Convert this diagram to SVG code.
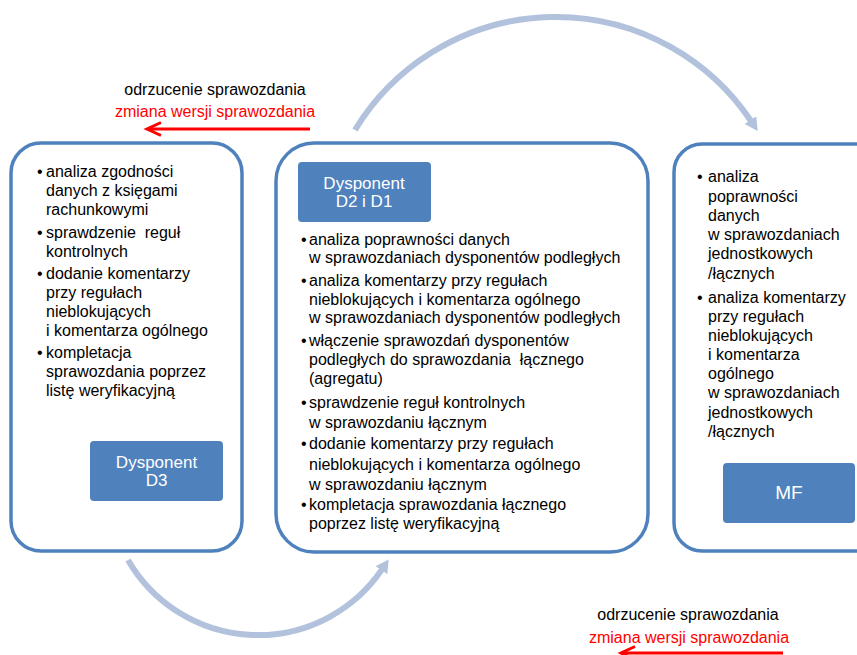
<svg xmlns="http://www.w3.org/2000/svg" width="857" height="655" viewBox="0 0 857 655">
<defs>
<style>
.box{fill:#ffffff;stroke:#4f81bd;stroke-width:3.5}
.lbl{fill:#4f81bd}
.t{font-family:"Liberation Sans",Arial,sans-serif;font-size:16px;fill:#000}
.w{font-family:"Liberation Sans",Arial,sans-serif;font-size:17px;fill:#fff;text-anchor:middle}
.red{fill:#ff0000}
.arc{fill:none;stroke:#b2c2dd;stroke-width:6}
.ra{fill:none;stroke:#ff0000;stroke-width:3}
</style>
<marker id="ah" markerUnits="userSpaceOnUse" markerWidth="16" markerHeight="16" refX="1" refY="7" orient="auto">
<path d="M0 0 L13 7 L0 14 Z" fill="#b2c2dd"/>
</marker>
</defs>
<rect width="857" height="655" fill="#ffffff"/>

<g id="connectors">
<path class="arc" d="M355 130 A235 235 0 0 1 751 121" marker-end="url(#ah)"/>
<path class="arc" d="M128 560 A150 150 0 0 0 382 569.4" marker-end="url(#ah)"/>
<line class="ra" x1="310" y1="129" x2="148" y2="129"/>
<polyline class="ra" points="161,122.5 147,129 161,135.5"/>
<line class="ra" x1="783" y1="653" x2="622" y2="653"/>
<polyline class="ra" points="635,646.5 621,653 635,659.5"/>
</g>

<g id="label-top">
<text class="t" x="215" y="95" text-anchor="middle">odrzucenie sprawozdania</text>
<text class="t red" x="215" y="117" text-anchor="middle">zmiana wersji sprawozdania</text>
</g>
<g id="label-bottom">
<text class="t" x="688" y="620" text-anchor="middle">odrzucenie sprawozdania</text>
<text class="t red" x="689" y="643" text-anchor="middle">zmiana wersji sprawozdania</text>
</g>

<g id="node-d3">
<rect class="box" x="11" y="143" width="231" height="408" rx="30"/>
<rect class="lbl" x="90" y="441" width="133" height="60" rx="4"/>
<text class="w" x="156.5" y="468">Dysponent</text>
<text class="w" x="156.5" y="486">D3</text>
<g class="t">
<text x="37" y="177">•</text>
<text x="46" y="177">analiza zgodności</text>
<text x="46" y="196">danych z księgami</text>
<text x="46" y="215">rachunkowymi</text>
<text x="37" y="238">•</text>
<text x="46" y="238" style="white-space:pre">sprawdzenie  reguł</text>
<text x="46" y="257">kontrolnych</text>
<text x="37" y="279">•</text>
<text x="46" y="279">dodanie komentarzy</text>
<text x="46" y="298">przy regułach</text>
<text x="46" y="317">nieblokujących</text>
<text x="46" y="336">i komentarza ogólnego</text>
<text x="37" y="358">•</text>
<text x="46" y="358">kompletacja</text>
<text x="46" y="377">sprawozdania poprzez</text>
<text x="46" y="396">listę weryfikacyjną</text>
</g>
</g>

<g id="node-d2d1">
<rect class="box" x="276" y="143" width="372" height="409" rx="38"/>
<rect class="lbl" x="298" y="162" width="133" height="60" rx="4"/>
<text class="w" x="364" y="189">Dysponent</text>
<text class="w" x="364" y="207">D2 i D1</text>
<g class="t">
<text x="301" y="245">•</text>
<text x="309" y="245">analiza poprawności danych</text>
<text x="309" y="263">w sprawozdaniach dysponentów podległych</text>
<text x="301" y="286">•</text>
<text x="309" y="286">analiza komentarzy przy regułach</text>
<text x="309" y="305">nieblokujących i komentarza ogólnego</text>
<text x="309" y="323">w sprawozdaniach dysponentów podległych</text>
<text x="301" y="346">•</text>
<text x="309" y="346">włączenie sprawozdań dysponentów</text>
<text x="309" y="365" style="white-space:pre">podległych do sprawozdania  łącznego</text>
<text x="309" y="384">(agregatu)</text>
<text x="301" y="408">•</text>
<text x="309" y="408">sprawdzenie reguł kontrolnych</text>
<text x="309" y="428">w sprawozdaniu łącznym</text>
<text x="301" y="449">•</text>
<text x="309" y="449">dodanie komentarzy przy regułach</text>
<text x="309" y="470">nieblokujących i komentarza ogólnego</text>
<text x="309" y="490">w sprawozdaniu łącznym</text>
<text x="301" y="510">•</text>
<text x="309" y="510">kompletacja sprawozdania łącznego</text>
<text x="309" y="529">poprzez listę weryfikacyjną</text>
</g>
</g>

<g id="node-mf">
<rect class="box" x="674" y="144" width="210" height="407" rx="28"/>
<rect class="lbl" x="723" y="463" width="132" height="60" rx="4"/>
<text class="w" x="789" y="499" style="font-size:19px">MF</text>
<g class="t">
<text x="697" y="182">•</text>
<text x="708" y="182">analiza</text>
<text x="708" y="202">poprawności</text>
<text x="708" y="221">danych</text>
<text x="708" y="240">w sprawozdaniach</text>
<text x="708" y="259">jednostkowych</text>
<text x="708" y="279">/łącznych</text>
<text x="697" y="303">•</text>
<text x="708" y="303">analiza komentarzy</text>
<text x="708" y="322">przy regułach</text>
<text x="708" y="341">nieblokujących</text>
<text x="708" y="360">i komentarza</text>
<text x="708" y="379">ogólnego</text>
<text x="708" y="398">w sprawozdaniach</text>
<text x="708" y="418">jednostkowych</text>
<text x="708" y="437">/łącznych</text>
</g>
</g>
</svg>
